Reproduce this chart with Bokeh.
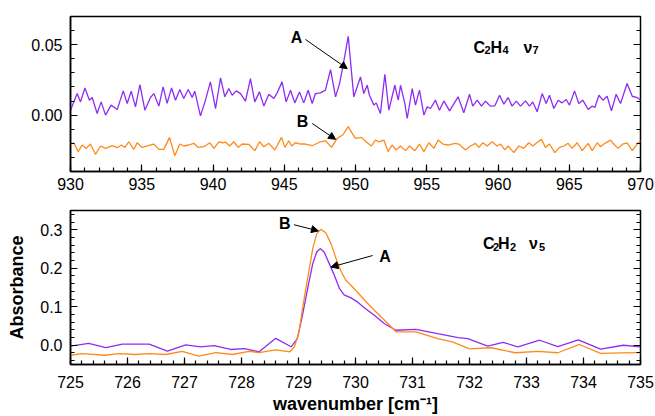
from bokeh.embed import file_html
from bokeh.layouts import column
from bokeh.models import (Arrow, FixedTicker, Label, LinearAxis, NormalHead,
                          PrintfTickFormatter, Range1d)
from bokeh.plotting import figure
from bokeh.resources import INLINE

FONT = "Liberation Sans"
PURPLE = "#8f2cf2"
ORANGE = "#ff8a1c"

# --- C2H4 nu7 panel (930-970 cm-1) ---
c2h4_a_x = [930.00, 930.47, 930.70, 931.01, 931.33, 931.52, 931.87, 932.15, 932.46, 932.85,
            933.28, 933.70, 933.98, 934.26, 934.56, 934.87, 935.22, 935.61, 935.85, 936.20,
            936.50, 936.78, 937.09, 937.37, 937.67, 937.95, 938.26, 938.54, 938.72, 939.12,
            939.47, 939.82, 940.18, 940.53, 940.83, 941.11, 941.35, 941.63, 941.93, 942.28,
            942.63, 942.93, 943.26, 943.57, 943.92, 944.27, 944.50, 944.85, 945.13, 945.44,
            945.74, 946.07, 946.37, 946.68, 946.96, 947.19, 947.54, 947.89, 948.25, 948.60,
            948.88, 949.11, 949.49, 949.88, 950.35, 950.58, 950.82, 950.98, 951.29, 951.45,
            951.75, 952.06, 952.34, 952.76, 953.00, 953.16, 953.46, 953.63, 953.98, 954.21,
            954.49, 954.80, 955.03, 955.26, 955.61, 955.89, 956.20, 956.60, 957.20, 957.60,
            958.00, 958.23, 958.54, 958.84, 959.12, 959.47, 959.78, 960.11, 960.41, 960.71,
            960.99, 961.28, 961.58, 961.93, 962.21, 962.44, 962.75, 963.10, 963.38, 963.61,
            963.92, 964.22, 964.50, 964.78, 965.02, 965.37, 965.67, 965.95, 966.33, 966.61,
            966.80, 967.08, 967.36, 967.66, 967.96, 968.29, 968.60, 969.06, 969.42, 969.77,
            970.00]
c2h4_a_y = [0.0035, 0.0153, 0.0094, 0.0193, 0.0106, 0.0125, 0.0012, 0.0094, 0.0000, 0.0071,
            0.0040, 0.0172, 0.0083, 0.0170, 0.0059, 0.0217, 0.0035, 0.0125, 0.0153, 0.0064,
            0.0200, 0.0083, 0.0193, 0.0106, 0.0182, 0.0118, 0.0182, 0.0125, 0.0170, -0.0005,
            0.0106, 0.0236, 0.0047, 0.0264, 0.0130, 0.0189, 0.0141, 0.0172, 0.0153, 0.0099,
            0.0259, 0.0094, 0.0165, 0.0064, 0.0148, 0.0118, 0.0158, 0.0236, 0.0094, 0.0177,
            0.0087, 0.0165, 0.0087, 0.0177, 0.0083, 0.0153, 0.0158, 0.0177, 0.0323, 0.0130,
            0.0224, 0.0342, 0.0559, 0.0130, 0.0271, 0.0153, 0.0212, 0.0141, 0.0071, 0.0087,
            0.0012, 0.0290, 0.0035, 0.0212, 0.0106, 0.0212, 0.0083, -0.0024, 0.0189, 0.0071,
            0.0177, 0.0000, 0.0059, 0.0047, 0.0106, 0.0035, 0.0101, 0.0030, 0.0130, 0.0017,
            0.0148, 0.0064, 0.0106, 0.0064, 0.0099, 0.0064, 0.0066, 0.0141, 0.0078, 0.0125,
            0.0064, 0.0099, 0.0064, 0.0101, 0.0064, 0.0094, 0.0024, 0.0153, 0.0083, 0.0141,
            0.0047, 0.0106, 0.0087, 0.0111, 0.0071, 0.0172, 0.0083, 0.0106, 0.0040, 0.0064,
            0.0054, 0.0141, 0.0106, 0.0134, 0.0030, 0.0148, 0.0083, 0.0224, 0.0134, 0.0125,
            0.0106]

c2h4_b_x = [930.00, 930.23, 930.54, 930.82, 931.10, 931.40, 931.75, 932.11, 932.46, 932.92,
            933.28, 933.58, 933.81, 934.09, 934.44, 934.68, 935.03, 935.38, 935.85, 936.20,
            936.55, 936.95, 937.32, 937.67, 937.95, 938.30, 938.65, 938.96, 939.36, 939.78,
            940.06, 940.41, 940.69, 940.88, 941.16, 941.46, 941.77, 942.05, 942.51, 942.94,
            943.26, 943.57, 943.92, 944.34, 944.81, 945.05, 945.32, 945.51, 945.79, 946.14,
            946.49, 946.96, 947.54, 947.89, 948.32, 948.71, 949.11, 949.49, 949.77, 950.00,
            950.42, 950.82, 951.12, 951.40, 951.64, 951.99, 952.29, 952.57, 952.85, 953.16,
            953.51, 953.79, 954.16, 954.49, 954.80, 955.15, 955.50, 955.80, 956.13, 956.50,
            956.97, 957.25, 957.72, 958.07, 958.42, 958.65, 958.94, 959.24, 959.59, 959.94,
            960.18, 960.48, 960.71, 961.11, 961.46, 961.81, 962.16, 962.44, 962.68, 963.05,
            963.33, 963.61, 963.99, 964.32, 964.62, 964.92, 965.20, 965.56, 965.91, 966.33,
            966.61, 966.96, 967.19, 967.50, 967.89, 968.12, 968.43, 968.76, 969.06, 969.42,
            969.77, 970.00]
c2h4_b_y = [-0.0205, -0.0196, -0.0259, -0.0212, -0.0236, -0.0205, -0.0278, -0.0219, -0.0236, -0.0217,
            -0.0231, -0.0212, -0.0229, -0.0189, -0.0243, -0.0196, -0.0229, -0.0219, -0.0205, -0.0243,
            -0.0243, -0.0158, -0.0288, -0.0205, -0.0219, -0.0212, -0.0200, -0.0229, -0.0224, -0.0196,
            -0.0236, -0.0189, -0.0196, -0.0191, -0.0219, -0.0189, -0.0229, -0.0205, -0.0207, -0.0252,
            -0.0189, -0.0224, -0.0200, -0.0247, -0.0158, -0.0229, -0.0182, -0.0219, -0.0196, -0.0205,
            -0.0205, -0.0217, -0.0189, -0.0182, -0.0229, -0.0165, -0.0141, -0.0082, -0.0130, -0.0165,
            -0.0158, -0.0196, -0.0219, -0.0177, -0.0189, -0.0177, -0.0259, -0.0212, -0.0247, -0.0219,
            -0.0252, -0.0219, -0.0252, -0.0205, -0.0259, -0.0196, -0.0236, -0.0177, -0.0205, -0.0212,
            -0.0200, -0.0205, -0.0247, -0.0219, -0.0200, -0.0229, -0.0196, -0.0219, -0.0189, -0.0219,
            -0.0205, -0.0247, -0.0219, -0.0266, -0.0219, -0.0236, -0.0196, -0.0219, -0.0200, -0.0172,
            -0.0229, -0.0205, -0.0266, -0.0229, -0.0219, -0.0200, -0.0236, -0.0196, -0.0252, -0.0200,
            -0.0252, -0.0196, -0.0224, -0.0200, -0.0177, -0.0205, -0.0236, -0.0205, -0.0196, -0.0252,
            -0.0205, -0.0182]

# --- C2H2 nu5 panel (725-735 cm-1) ---
c2h2_a_x = [725.00, 725.32, 725.62, 725.91, 726.38, 726.70, 727.02, 727.28, 727.52, 727.81,
            728.05, 728.31, 728.60, 728.87, 728.98, 729.07, 729.16, 729.25, 729.32, 729.38,
            729.45, 729.54, 729.63, 729.72, 729.80, 729.92, 730.04, 730.16, 730.33, 730.51,
            730.71, 731.06, 731.44, 731.80, 731.97, 732.32, 732.59, 732.85, 733.23, 733.55,
            733.91, 734.30, 734.70, 735.00]
c2h2_a_y = [-0.002, 0.005, -0.006, 0.003, 0.003, -0.015, 0.001, -0.004, -0.001, -0.011,
            -0.009, -0.017, 0.018, -0.004, 0.017, 0.078, 0.147, 0.212, 0.242, 0.251,
            0.242, 0.212, 0.181, 0.147, 0.131, 0.123, 0.112, 0.097, 0.078, 0.056,
            0.039, 0.041, 0.030, 0.020, 0.017, -0.002, 0.0075, -0.004, 0.013, -0.0035,
            0.014, -0.010, 0.000, -0.004]

c2h2_b_x = [725.00, 725.20, 725.60, 725.85, 726.14, 726.38, 726.67, 726.96, 727.25, 727.55,
            727.84, 728.13, 728.31, 728.60, 728.85, 728.93, 729.01, 729.07, 729.16, 729.25,
            729.32, 729.39, 729.48, 729.57, 729.66, 729.74, 729.83, 729.92, 730.04, 730.16,
            730.33, 730.51, 730.71, 731.06, 731.44, 731.70, 732.00, 732.38, 732.80, 733.20,
            733.55, 733.93, 734.30, 734.66, 735.00]
c2h2_b_y = [-0.026, -0.022, -0.026, -0.022, -0.024, -0.022, -0.024, -0.016, -0.0285, -0.019,
            -0.024, -0.016, -0.019, -0.012, -0.017, -0.004, 0.035, 0.095, 0.173, 0.251,
            0.290, 0.301, 0.292, 0.264, 0.225, 0.194, 0.169, 0.156, 0.137, 0.117,
            0.091, 0.065, 0.035, 0.035, 0.017, 0.0086, -0.0095, -0.0065, -0.0195, -0.016,
            -0.0195, 0.002, -0.021, -0.020, -0.019]

top_title = [("C", 0, 0, 16), ("2", 11, -3, 11), ("H", 17, 0, 16),
             ("4", 29, -3, 11), ("ν", 50, 0, 16), ("7", 59, -3, 11)]
bottom_title = [("C", 0, 0, 16), ("2", 10, -3, 11), ("H", 15, 0, 16),
                ("2", 27, -3, 11), ("ν", 46, 0, 16), ("5", 56, -3, 11)]


def style(p, xt, xm, yt, ym, yfmt, xstand):
    p.outline_line_color = "black"
    p.outline_line_width = 1.5
    p.grid.visible = False
    xa = p.xaxis[0]
    xa.ticker = FixedTicker(ticks=xt, minor_ticks=xm)
    xa.formatter = PrintfTickFormatter(format="%d")
    xa.major_label_standoff = xstand
    ya = p.yaxis[0]
    ya.ticker = FixedTicker(ticks=yt, minor_ticks=ym)
    ya.formatter = PrintfTickFormatter(format=yfmt)
    ya.major_label_standoff = 8
    # ticks only on the right side, no numbers there
    right = LinearAxis(ticker=FixedTicker(ticks=yt, minor_ticks=ym),
                       major_label_overrides={t: "" for t in yt},
                       major_label_standoff=0, axis_line_color=None)
    p.add_layout(right, "right")
    for ax in (xa, ya, right):
        ax.major_tick_in = 7
        ax.major_tick_out = 0
        ax.minor_tick_in = 4
        ax.minor_tick_out = 0
        ax.major_tick_line_color = "black"
        ax.minor_tick_line_color = "black"
        ax.major_tick_line_width = 1.2
        ax.minor_tick_line_width = 1.2
        ax.major_label_text_font = FONT
        ax.major_label_text_font_size = "16px"
        ax.major_label_text_color = "black"
        ax.axis_label_text_font = FONT
        ax.axis_label_text_font_size = "18px"
        ax.axis_label_text_font_style = "bold"
        ax.axis_label_text_color = "black"
    xa.axis_line_width = 1.5
    ya.axis_line_width = 1.5


def add_text(p, x, y, txt, size=16, **kw):
    p.add_layout(Label(x=x, y=y, text=txt, text_font=FONT, text_font_size=f"{size}px",
                       text_font_style="bold", text_color="black", **kw))


def add_arrow(p, x0, y0, x1, y1):
    p.add_layout(Arrow(end=NormalHead(size=7, fill_color="black", line_color="black", line_width=1),
                       x_start=x0, y_start=y0, x_end=x1, y_end=y1,
                       line_color="black", line_width=1))


top = figure(width=654, height=198, x_range=Range1d(930, 970), y_range=Range1d(-0.04, 0.07),
             output_backend="svg", toolbar_location=None,
             min_border_left=70, min_border_right=14, min_border_top=16, min_border_bottom=27)
style(top, [930 + 5 * i for i in range(9)], [930 + i for i in range(41)],
      [0.0, 0.05], [round(-0.04 + 0.01 * i, 2) for i in range(12)], "%.2f", 6)
top.line(c2h4_a_x, c2h4_a_y, line_color=PURPLE, line_width=1.3)
top.line(c2h4_b_x, c2h4_b_y, line_color=ORANGE, line_width=1.3)
add_text(top, 945.86, 0.0548, "A", text_align="center", text_baseline="middle")
add_arrow(top, 946.49, 0.0537, 949.42, 0.033)
add_text(top, 946.28, -0.0042, "B", text_align="center", text_baseline="middle")
add_arrow(top, 946.96, -0.0059, 948.60, -0.0172)
for t, dx, dy, s in top_title:
    add_text(top, 958.28, 0.0483, t, size=s, x_offset=dx, y_offset=dy,
             text_align="left", text_baseline="alphabetic")

bot = figure(width=654, height=218, x_range=Range1d(725, 735), y_range=Range1d(-0.05, 0.35),
             output_backend="svg", toolbar_location=None,
             min_border_left=70, min_border_right=14, min_border_top=12, min_border_bottom=52)
style(bot, list(range(725, 736)), [round(725 + 0.2 * i, 1) for i in range(51)],
      [0.0, 0.1, 0.2, 0.3], [round(-0.04 + 0.02 * i, 2) for i in range(20)], "%.1f", 11)
bot.xaxis[0].axis_label = "wavenumber [cm⁻¹]"
bot.xaxis[0].axis_label_standoff = 3
bot.yaxis[0].axis_label = "Absorbance"
bot.yaxis[0].axis_label_standoff = 10
bot.line(c2h2_a_x, c2h2_a_y, line_color=PURPLE, line_width=1.3)
bot.line(c2h2_b_x, c2h2_b_y, line_color=ORANGE, line_width=1.3)
add_text(bot, 728.76, 0.316, "B", text_align="center", text_baseline="middle")
add_arrow(bot, 728.92, 0.313, 729.35, 0.297)
add_text(bot, 730.52, 0.231, "A", text_align="center", text_baseline="middle")
add_arrow(bot, 730.30, 0.233, 729.57, 0.203)
for t, dx, dy, s in bottom_title:
    add_text(bot, 732.235, 0.2637, t, size=s, x_offset=dx, y_offset=dy,
             text_align="left", text_baseline="alphabetic")

p = column(top, bot)
open("out.html", "w").write(file_html(p, INLINE))
